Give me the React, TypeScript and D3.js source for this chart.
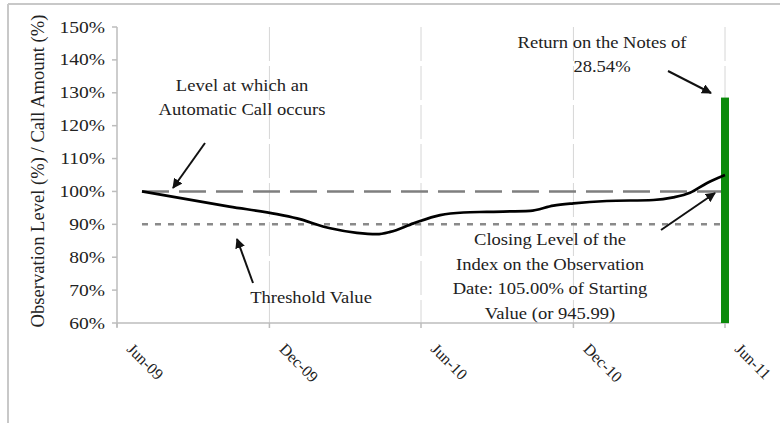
import React, { useEffect, useRef } from "react";
import * as d3 from "d3";

// observation series (date, level in %)
const obsDates = [
  "2009-07-01", "2009-10-14", "2009-12-10", "2010-01-03", "2010-02-12", "2010-03-16",
  "2010-04-09", "2010-04-25", "2010-05-23", "2010-06-24", "2010-07-22", "2010-08-19",
  "2010-10-10", "2010-11-07", "2010-12-01", "2011-01-10", "2011-03-07", "2011-03-31",
  "2011-04-20", "2011-05-10", "2011-06-01",
];
const obsValues = [
  100, 95.4, 93.1, 91.8, 88.8, 87.4,
  87.0, 87.7, 90.3, 92.8, 93.6, 93.8,
  94.1, 95.7, 96.4, 97.1, 97.4, 98.2,
  99.6, 102.5, 105.0,
];
const callLevel = 100;
const thresholdLevel = 90;
const returnDate = "2011-06-01";
const returnValue = 128.54;

const xTickDates = ["2009-06-01", "2009-12-01", "2010-06-01", "2010-12-01", "2011-06-01"];
const xTickLabels = ["Jun-09", "Dec-09", "Jun-10", "Dec-10", "Jun-11"];
const yTicks = [60, 70, 80, 90, 100, 110, 120, 130, 140, 150];

const FONT = "'Liberation Serif', 'Times New Roman', serif";

export default function App() {
  const ref = useRef<SVGSVGElement>(null);

  useEffect(() => {
    const svg = d3.select(ref.current);
    svg.selectAll("*").remove();

    const parse = d3.timeParse("%Y-%m-%d");
    const data = obsDates.map((d, i) => ({ date: parse(d)!, value: obsValues[i] }));

    const x = d3.scaleTime()
      .domain([parse("2009-06-01")!, parse("2011-06-01")!])
      .range([117, 725]);
    const y = d3.scaleLinear().domain([60, 150]).range([323, 27]);

    const defs = svg.append("defs");
    defs.append("marker")
      .attr("id", "arrow")
      .attr("viewBox", "0 0 10 10")
      .attr("refX", 9)
      .attr("refY", 5)
      .attr("markerWidth", 5)
      .attr("markerHeight", 5)
      .attr("orient", "auto")
      .append("path")
      .attr("d", "M0,0 L10,5 L0,10 z")
      .attr("fill", "#111");

    // outer frame
    svg.append("line").attr("x1", 8).attr("y1", 4).attr("x2", 780).attr("y2", 4)
      .attr("stroke", "#c8c8c8").attr("stroke-width", 2);
    svg.append("line").attr("x1", 8).attr("y1", 4).attr("x2", 8).attr("y2", 423)
      .attr("stroke", "#c8c8c8").attr("stroke-width", 2);

    // vertical gridlines
    svg.append("g").selectAll("line")
      .data(xTickDates.slice(1))
      .enter().append("line")
      .attr("x1", d => x(parse(d)!)).attr("x2", d => x(parse(d)!))
      .attr("y1", y(150)).attr("y2", y(60))
      .attr("stroke", "#d6d6d6")
      .attr("stroke-width", 1)
      .attr("stroke-dasharray", "34,5");

    // axes
    svg.append("line").attr("x1", 117).attr("x2", 117).attr("y1", y(150)).attr("y2", y(60) + 4)
      .attr("stroke", "#bdbdbd").attr("stroke-width", 1.5);
    svg.append("line").attr("x1", 117).attr("x2", x(parse("2011-06-01")!) + 4).attr("y1", y(60)).attr("y2", y(60))
      .attr("stroke", "#bdbdbd").attr("stroke-width", 1.5);

    svg.append("g").selectAll("line")
      .data(yTicks)
      .enter().append("line")
      .attr("x1", 112).attr("x2", 117)
      .attr("y1", d => y(d)).attr("y2", d => y(d))
      .attr("stroke", "#bdbdbd").attr("stroke-width", 1.5);

    svg.append("g").selectAll("line")
      .data(xTickDates)
      .enter().append("line")
      .attr("x1", d => x(parse(d)!)).attr("x2", d => x(parse(d)!))
      .attr("y1", y(60)).attr("y2", y(60) + 5)
      .attr("stroke", "#bdbdbd").attr("stroke-width", 1.5);

    // y tick labels
    svg.append("g").selectAll("text")
      .data(yTicks)
      .enter().append("text")
      .attr("transform", d => `translate(105,${y(d) + 5.5}) scale(1.22,1)`)
      .attr("text-anchor", "end")
      .attr("font-family", FONT)
      .attr("font-size", 16)
      .attr("fill", "#222")
      .text(d => d + "%");

    // x tick labels
    svg.append("g").selectAll("text")
      .data(xTickDates)
      .enter().append("text")
      .attr("transform", d => `translate(${x(parse(d)!) + 9},${y(60) + 27}) rotate(45)`)
      .attr("font-family", FONT)
      .attr("font-size", 16)
      .attr("fill", "#222")
      .text((d, i) => xTickLabels[i]);

    // y axis title
    svg.append("text")
      .attr("transform", `translate(44,171) rotate(-90)`)
      .attr("text-anchor", "middle")
      .attr("font-family", FONT)
      .attr("font-size", 18.6)
      .attr("fill", "#222")
      .text("Observation Level (%) / Call Amount (%)");

    const x0 = x(data[0].date);
    const x1 = x(parse(returnDate)!) - 4;

    // call level (dashed) and threshold (dotted)
    svg.append("line")
      .attr("x1", x0).attr("x2", x1)
      .attr("y1", y(callLevel)).attr("y2", y(callLevel))
      .attr("stroke", "#7f7f7f").attr("stroke-width", 2.5)
      .attr("stroke-dasharray", "27,10");
    svg.append("line")
      .attr("x1", x0).attr("x2", x1)
      .attr("y1", y(thresholdLevel)).attr("y2", y(thresholdLevel))
      .attr("stroke", "#8a8a8a").attr("stroke-width", 2.5)
      .attr("stroke-dasharray", "6,7");

    // return bar
    svg.append("rect")
      .attr("x", x(parse(returnDate)!) - 4)
      .attr("width", 8)
      .attr("y", y(returnValue))
      .attr("height", y(60) - y(returnValue))
      .attr("fill", "#0b8a0b");

    // observation line
    const line = d3.line<{ date: Date; value: number }>()
      .x(d => x(d.date))
      .y(d => y(d.value))
      .curve(d3.curveMonotoneX);
    svg.append("path")
      .datum(data)
      .attr("d", line)
      .attr("fill", "none")
      .attr("stroke", "#000")
      .attr("stroke-width", 2.7);

    // annotations
    const notes = [
      { lines: ["Level at which an", "Automatic Call occurs"], cx: 242, y0: 91, lh: 24 },
      { lines: ["Threshold Value"], cx: 311, y0: 303, lh: 24 },
      { lines: ["Return on the Notes of", "28.54%"], cx: 602, y0: 48, lh: 24 },
      { lines: ["Closing Level of the", "Index on the Observation", "Date: 105.00% of Starting", "Value (or 945.99)"], cx: 550, y0: 245, lh: 24.5 },
    ];
    notes.forEach(n => {
      n.lines.forEach((t, i) => {
        svg.append("text")
          .attr("transform", `translate(${n.cx},${n.y0 + i * n.lh}) scale(1.16,1)`)
          .attr("text-anchor", "middle")
          .attr("font-family", FONT)
          .attr("font-size", 16)
          .attr("fill", "#222")
          .text(t);
      });
    });

    const arrows = [
      [205, 143, 173, 188],
      [253, 283, 237, 239],
      [668, 71, 711, 93],
      [661, 230, 715, 193],
    ];
    svg.append("g").selectAll("line")
      .data(arrows)
      .enter().append("line")
      .attr("x1", d => d[0]).attr("y1", d => d[1])
      .attr("x2", d => d[2]).attr("y2", d => d[3])
      .attr("stroke", "#111")
      .attr("stroke-width", 2)
      .attr("marker-end", "url(#arrow)");
  }, []);

  return (
    <svg
      ref={ref}
      width={780}
      height={423}
      style={{ position: "absolute", left: 0, top: 0, background: "#fff" }}
    />
  );
}
